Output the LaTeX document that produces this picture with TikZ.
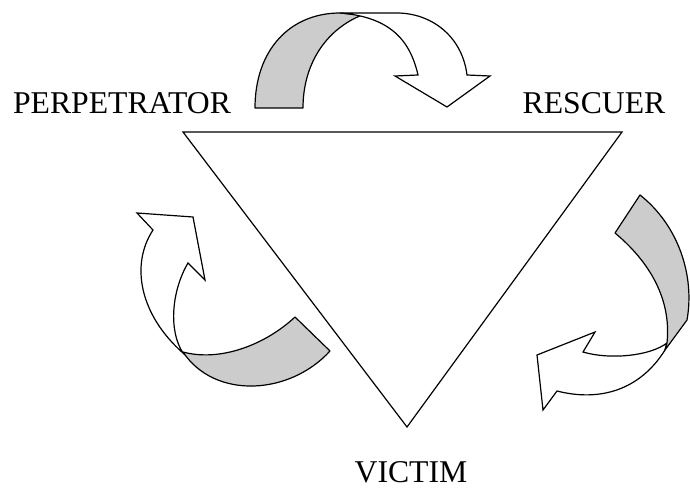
\documentclass[tikz,border=0pt]{standalone}
\usepackage{fontspec}
\setmainfont{Liberation Serif}
\usetikzlibrary{positioning}
\tikzset{
	back/.style={draw,fill=black!20,line width=1.2pt,line join=round},
	front/.style={draw,fill=white,line width=1.2pt,line join=miter},
	role/.style={anchor=base,font=\fontsize{31.7}{36}\selectfont,inner sep=0pt}
}
\begin{document}
\begin{tikzpicture}[x=1pt,y=-1pt]
	\useasboundingbox (0,0) rectangle (690,487);
	\coordinate (p) at (183,132);
	\coordinate (r) at (622,132);
	\coordinate (v) at (407,427);
	\draw[line width=1.2pt,line join=miter] (p) -- (r) -- (v) -- cycle;
	\node[role] (0) at (122,113) {PERPETRATOR};
	\node[role] (1) at (594,113) {RESCUER};
	\node[role] (2) at (411,482) {VICTIM};
	% top arrow
	\draw[back] (255,108) .. controls (255,50) and (290,13) .. (340,13) -- (362,15)
		.. controls (325,30) and (303,65) .. (303,108) -- cycle;
	\draw[front] (340,13) -- (397,13) .. controls (430,13) and (462,35) .. (467,75)
		-- (490,76) -- (447,107) -- (395,76) -- (418,75)
		.. controls (410,40) and (390,17) .. (340,13) -- cycle;
	% right arrow
	\draw[front] (667,343) .. controls (650,356) and (610,360) .. (583,352)
		-- (595,332) -- (537,355) -- (543,410) -- (557,391)
		.. controls (600,402) and (640,390) .. (665,350) -- cycle;
	\draw[back] (640,195) .. controls (678,225) and (695,275) .. (687,320) -- (665,350)
		-- (667,343) .. controls (672,295) and (645,258) .. (615,233) -- cycle;
	% left arrow
	\draw[front] (183,353) .. controls (140,315) and (130,265) .. (153,230)
		-- (137,213) -- (193,217) -- (205,280) -- (188,263)
		.. controls (172,290) and (168,330) .. (183,353) -- cycle;
	\draw[back] (295,317) -- (330,351) .. controls (290,395) and (215,400) .. (183,352)
		.. controls (220,362) and (265,345) .. (295,317) -- cycle;
\end{tikzpicture}
\end{document}
